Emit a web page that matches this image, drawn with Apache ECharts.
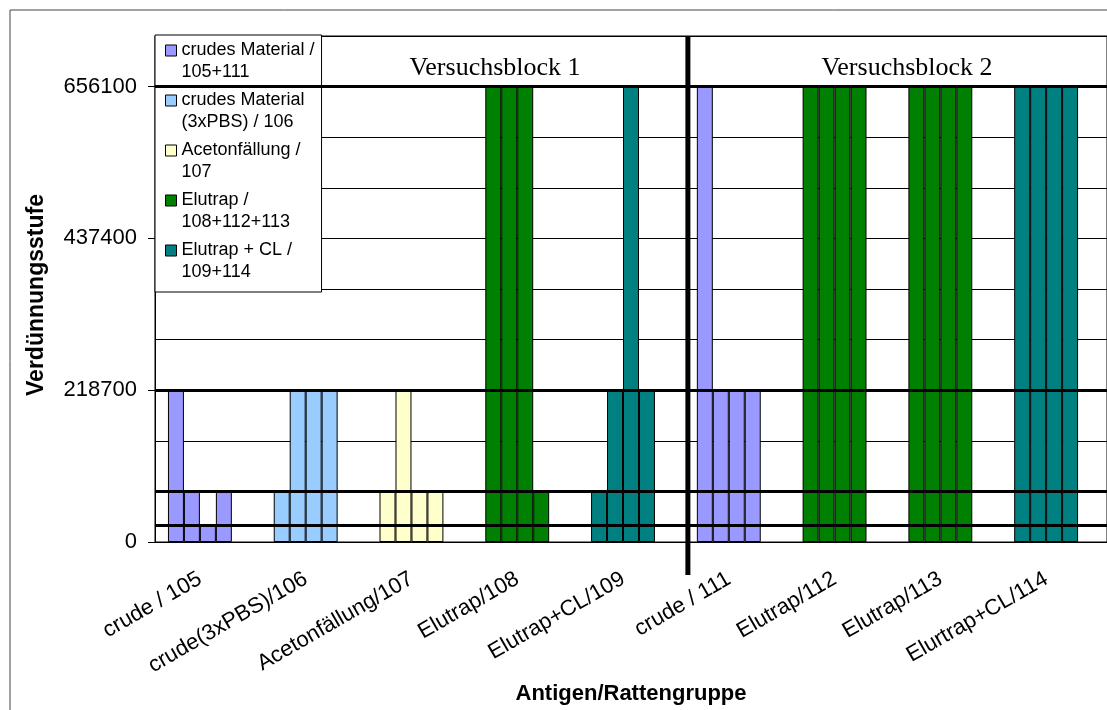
<!DOCTYPE html>
<html>
<head>
<meta charset="utf-8">
<script src="https://cdn.jsdelivr.net/npm/echarts@6.0.0/dist/echarts.min.js"></script>
<style>
body { margin: 0; background: #fff; }
#chart { width: 1107px; height: 710px; }
</style>
</head>
<body>
<div id="chart"></div>
<script>
// categories (antigen / rat group)
const categories = ['crude / 105', 'crude(3xPBS)/106', 'Acetonfällung/107', 'Elutrap/108', 'Elutrap+CL/109',
    'crude / 111', 'Elutrap/112', 'Elutrap/113', 'Elurtrap+CL/114'];
// which legend group each category belongs to
const groupOfCategory = [0, 1, 2, 3, 4, 0, 3, 3, 4];
const groupNames = ['crudes Material /\n105+111', 'crudes Material\n(3xPBS) / 106', 'Acetonfällung /\n107',
    'Elutrap /\n108+112+113', 'Elutrap + CL /\n109+114'];
const groupColors = ['#9999FF', '#99CCFF', '#FFFFCC', '#008000', '#008080'];

// dilution level per rat (4 rats per group)
const rat1 = [218700, 72900, 72900, 656100, 72900, 656100, 656100, 656100, 656100];
const rat2 = [72900, 218700, 218700, 656100, 218700, 218700, 656100, 656100, 656100];
const rat3 = [24300, 218700, 72900, 656100, 656100, 218700, 656100, 656100, 656100];
const rat4 = [72900, 218700, 72900, 72900, 218700, 218700, 656100, 656100, 656100];

const yTicks = [0, 218700, 437400, 656100];
const refLines = [24300, 72900, 218700, 656100];
const blockNames = ['Versuchsblock 1', 'Versuchsblock 2'];

const chart = echarts.init(document.getElementById('chart'));

function ratSeries(name, data, withLines) {
    const s = {
        name: name,
        type: 'bar',
        data: data,
        barGap: '0%',
        barCategoryGap: '24.5%',
        itemStyle: {
            color: p => groupColors[groupOfCategory[p.dataIndex]],
            borderColor: '#000',
            borderWidth: 1
        }
    };
    if (withLines) {
        s.markLine = {
            silent: true,
            symbol: ['none', 'none'],
            label: { show: false },
            lineStyle: { color: '#000', width: 3, type: 'solid' },
            data: refLines.map(v => ({ yAxis: v }))
        };
    }
    return s;
}

const series = [
    ratSeries('Ratte 1', rat1, true),
    ratSeries('Ratte 2', rat2),
    ratSeries('Ratte 3', rat3),
    ratSeries('Ratte 4', rat4),
    { name: 'leer', type: 'bar', data: [], barGap: '0%', barCategoryGap: '24.5%' }
];
// legend-only entries
groupNames.forEach((n, i) => {
    series.push({ name: n, type: 'line', data: [], color: groupColors[i], itemStyle: { color: groupColors[i] } });
});

chart.setOption({
    animation: false,
    textStyle: { fontFamily: 'Liberation Sans, Arial, sans-serif', color: '#000' },
    grid: {
        left: 155,
        right: -2,
        top: 36,
        bottom: 166,
        show: true,
        borderColor: '#000',
        borderWidth: 1
    },
    legend: {
        data: groupNames,
        orient: 'vertical',
        left: 155,
        top: 35,
        // square next to the first text line (box is 11 x 44, square at the top)
        icon: 'path://M0,0M0,5.5L11,5.5L11,16.5L0,16.5Z M11,44',
        itemWidth: 11,
        itemHeight: 44,
        itemGap: 5,
        padding: [4, 7, 8, 10],
        backgroundColor: '#fff',
        borderColor: '#000',
        borderWidth: 1,
        selectedMode: false,
        itemStyle: { borderColor: '#000', borderWidth: 1 },
        textStyle: { fontSize: 18, lineHeight: 22, color: '#000', fontFamily: 'Liberation Sans' }
    },
    xAxis: {
        type: 'category',
        data: categories,
        name: 'Antigen/Rattengruppe',
        nameLocation: 'middle',
        nameGap: 141,
        nameMoveOverlap: false,
        nameTextStyle: { fontSize: 22, fontWeight: 'bold', color: '#000' },
        axisLine: { lineStyle: { color: '#000', width: 1 } },
        axisTick: { length: 7, lineStyle: { color: '#000' } },
        axisLabel: { rotate: 30, interval: 0, fontSize: 22, color: '#000', margin: 31, padding: [0, 9, 0, 0] }
    },
    yAxis: [
        {
            type: 'value',
            min: 0,
            max: 729000,
            name: 'Verdünnungsstufe',
            nameLocation: 'middle',
            nameGap: 107,
            nameTextStyle: { fontSize: 23, fontWeight: 'bold', color: '#000', padding: [0, 12, 0, 0] },
            axisLine: { show: true, lineStyle: { color: '#000', width: 1 } },
            axisTick: { show: true, length: 7, customValues: yTicks, lineStyle: { color: '#000' } },
            axisLabel: { fontSize: 22, color: '#000', margin: 18, customValues: yTicks, formatter: v => String(v) },
            splitLine: { show: false }
        },
        {
            // only draws the thin grid lines every 72900
            type: 'value',
            position: 'left',
            min: 0,
            max: 729000,
            interval: 72900,
            axisLine: { show: false },
            axisTick: { show: false },
            axisLabel: { show: false },
            splitLine: { show: true, lineStyle: { color: '#000', width: 1 } }
        }
    ],
    series: series
});

// separator between the two blocks + block titles + outer frame
const xa = chart.convertToPixel({ xAxisIndex: 0 }, 4);
const xb = chart.convertToPixel({ xAxisIndex: 0 }, 5);
const sepX = (xa + xb) / 2 + 4;
const yTop = chart.convertToPixel({ yAxisIndex: 0 }, 729000);
const yZero = chart.convertToPixel({ yAxisIndex: 0 }, 0);
const y656 = chart.convertToPixel({ yAxisIndex: 0 }, 656100);
const midY = (yTop + y656) / 2 + 7;

chart.setOption({
    graphic: [
        {
            type: 'rect', silent: true, z: 0,
            shape: { x: 10, y: 10, width: 1200, height: 800 },
            style: { fill: null, stroke: '#444', lineWidth: 1 }
        },
        {
            type: 'line', silent: true, z: 50,
            shape: { x1: sepX, y1: yTop, x2: sepX, y2: yZero + 33 },
            style: { stroke: '#000', lineWidth: 5 }
        },
        {
            type: 'text', silent: true, z: 50, x: 495, y: midY,
            style: { text: blockNames[0], font: '26px "Liberation Serif", "Times New Roman", serif',
                fill: '#000', textAlign: 'center', textVerticalAlign: 'middle' }
        },
        {
            type: 'text', silent: true, z: 50, x: 907, y: midY,
            style: { text: blockNames[1], font: '26px "Liberation Serif", "Times New Roman", serif',
                fill: '#000', textAlign: 'center', textVerticalAlign: 'middle' }
        }
    ]
});
</script>
</body>
</html>
